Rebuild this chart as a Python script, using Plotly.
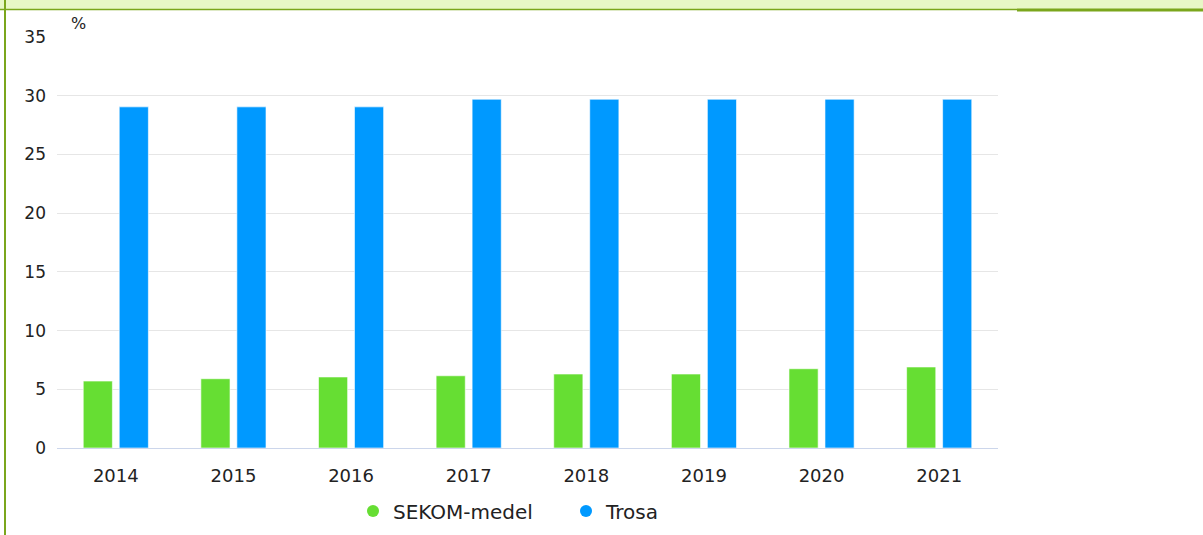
import plotly.graph_objects as go

years = ["2014", "2015", "2016", "2017", "2018", "2019", "2020", "2021"]
sekom = [5.7, 5.9, 6.05, 6.15, 6.3, 6.3, 6.75, 6.9]
trosa = [29.05, 29.05, 29.05, 29.7, 29.7, 29.7, 29.7, 29.7]
series_names = ["SEKOM-medel", "Trosa"]
colors = ["#66de33", "#0099ff"]

W, H = 1203, 535
ML, MR, MT, MB = 57, 205, 37, 87
PW, PH = W - ML - MR, H - MT - MB

def px(x):
    return (x - ML) / PW

def py(y):
    return (H - MB - y) / PH

fig = go.Figure()
for name, vals, col in zip(series_names, [sekom, trosa], colors):
    fig.add_trace(go.Bar(x=years, y=vals, name=name, marker_color=col,
                         marker_line_color="rgba(255,255,255,0.6)", marker_line_width=1,
                         showlegend=False))
for name, col in zip(series_names, colors):
    fig.add_trace(go.Scatter(x=[None], y=[None], mode="markers", name=name,
                             marker=dict(color=col, size=16, symbol="circle")))

font = "DejaVu Sans"
fig.update_layout(
    width=W, height=H,
    margin=dict(l=ML, r=MR, t=MT, b=MB, pad=0, autoexpand=False),
    paper_bgcolor="white", plot_bgcolor="white",
    barmode="group", bargap=0.388, bargroupgap=0.19,
    font=dict(family=font, size=17, color="#333333"),
    showlegend=True,
    legend=dict(orientation="h", xref="container", yref="container",
                x=(373 - 20) / W, xanchor="left", y=1 - 511 / H, yanchor="middle",
                font=dict(family=font, size=20, color="#222222"),
                itemsizing="constant", itemwidth=30, tracegroupgap=0,
                entrywidth=168),
    xaxis=dict(showgrid=False, showline=True, linecolor="#ccd6eb", linewidth=1,
               ticks="", tickfont=dict(size=18, color="#222222"), ticklabelstandoff=11,
               fixedrange=True, automargin=False),
    yaxis=dict(range=[0, 35], tickvals=[0, 5, 10, 15, 20, 25, 30, 35],
               showgrid=True, gridcolor="#e6e6e6", gridwidth=1, zeroline=False,
               showline=False, ticks="", tickfont=dict(size=17, color="#222222"),
               ticklabelstandoff=10, fixedrange=True, automargin=False),
    shapes=[
        dict(type="rect", xref="paper", yref="paper", x0=px(-5), x1=px(W + 5),
             y0=py(9.5), y1=py(-5), fillcolor="#e8f7c6", line_width=0, layer="below"),
        dict(type="line", xref="paper", yref="paper", x0=px(0), x1=px(1017),
             y0=py(9.5), y1=py(9.5), line=dict(color="#7ba61c", width=1.5)),
        dict(type="line", xref="paper", yref="paper", x0=px(1017), x1=px(W + 5),
             y0=py(10), y1=py(10), line=dict(color="#7ba61c", width=3)),
        dict(type="line", xref="paper", yref="paper", x0=px(5), x1=px(5),
             y0=py(-5), y1=py(H + 5), line=dict(color="#7ba61c", width=2)),
    ],
    annotations=[
        dict(text="%", xref="paper", yref="paper", x=px(78), y=py(23),
             xanchor="center", yanchor="middle", showarrow=False,
             font=dict(family=font, size=16, color="#222222")),
    ],
)

fig.write_html("out.html", config={"displayModeBar": False},
               post_script="document.body.style.margin='0';document.body.style.overflow='hidden';")
